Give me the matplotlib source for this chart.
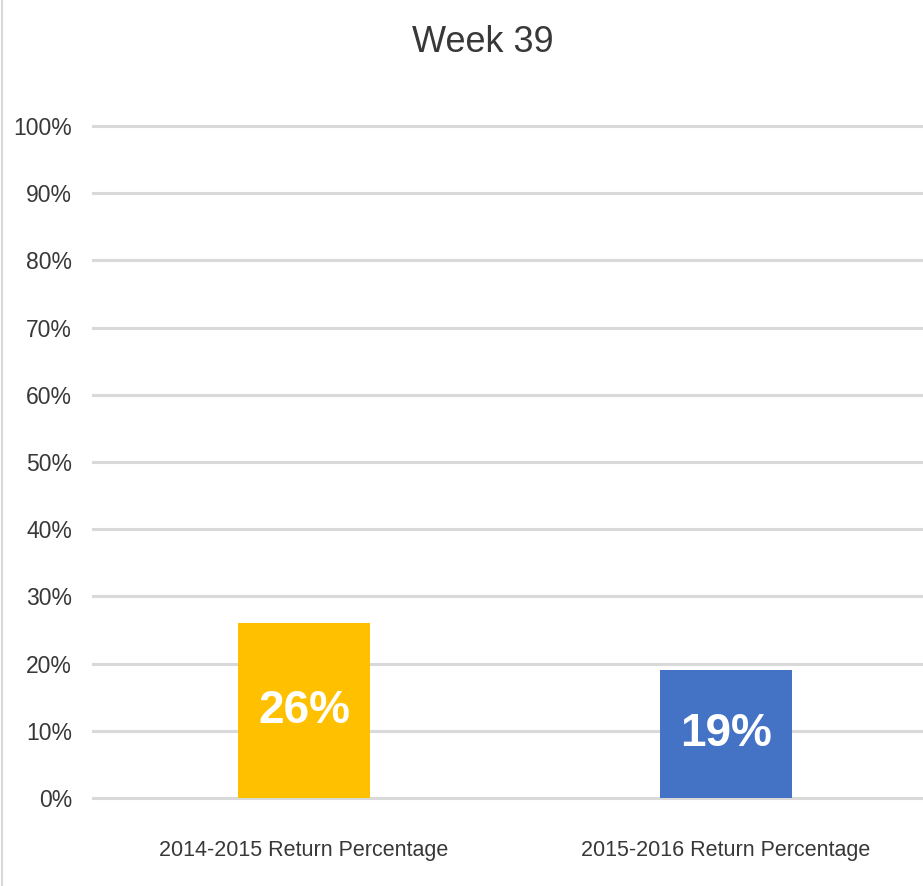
import matplotlib
matplotlib.use("Agg")
import matplotlib.pyplot as plt
from matplotlib.lines import Line2D

categories = ["2014-2015 Return Percentage", "2015-2016 Return Percentage"]
values = [0.26, 0.19]
bar_colors = ["#FFC000", "#4472C4"]
data_labels = ["26%", "19%"]
yticks = [0.0, 0.1, 0.2, 0.3, 0.4, 0.5, 0.6, 0.7, 0.8, 0.9, 1.0]
ytick_labels = ["0%", "10%", "20%", "30%", "40%", "50%", "60%", "70%", "80%", "90%", "100%"]
title = "Week 39"

FONT = ["Liberation Sans", "DejaVu Sans"]
plt.rcParams["font.family"] = FONT

W, H = 923, 886
fig = plt.figure(figsize=(W / 100, H / 100), dpi=100)
fig.patch.set_facecolor("white")

left, right = 93, 937
bottom, top = 798, 126
ax = fig.add_axes([left / W, 1 - bottom / H, (right - left) / W, (bottom - top) / H])
ax.set_facecolor("none")

x = list(range(len(categories)))
bars = ax.bar(x, values, width=0.315, color=bar_colors, zorder=3)
ax.set_xlim(-0.5, 1.5)
ax.set_ylim(0, 1.0)

ax.set_yticks(yticks)
ax.set_yticklabels(ytick_labels, fontsize=16.5, color="#383838")
ax.set_xticks(x)
ax.set_xticklabels(categories, fontsize=15.5, color="#383838")
ax.tick_params(axis="y", length=0, pad=15)
ax.tick_params(axis="x", length=0, pad=30)

ax.grid(axis="y", color="#d9d9d9", linewidth=2.2, zorder=0)
ax.grid(axis="x", visible=False)
ax.set_axisbelow(True)
for gl in ax.yaxis.get_gridlines():
    gl.set_clip_on(False)
for s in ax.spines.values():
    s.set_visible(False)

ax.bar_label(bars, labels=data_labels, label_type="center", color="white",
             fontsize=33, fontweight="bold")

fig.text(483 / W, 1 - 43 / H, title, ha="center", va="center", fontsize=26, color="#383838")

fig.add_artist(Line2D([2 / W, 2 / W], [0, 1], transform=fig.transFigure,
                      color="#d9d9d9", linewidth=1.5))

fig.savefig("out.png", dpi=100)
